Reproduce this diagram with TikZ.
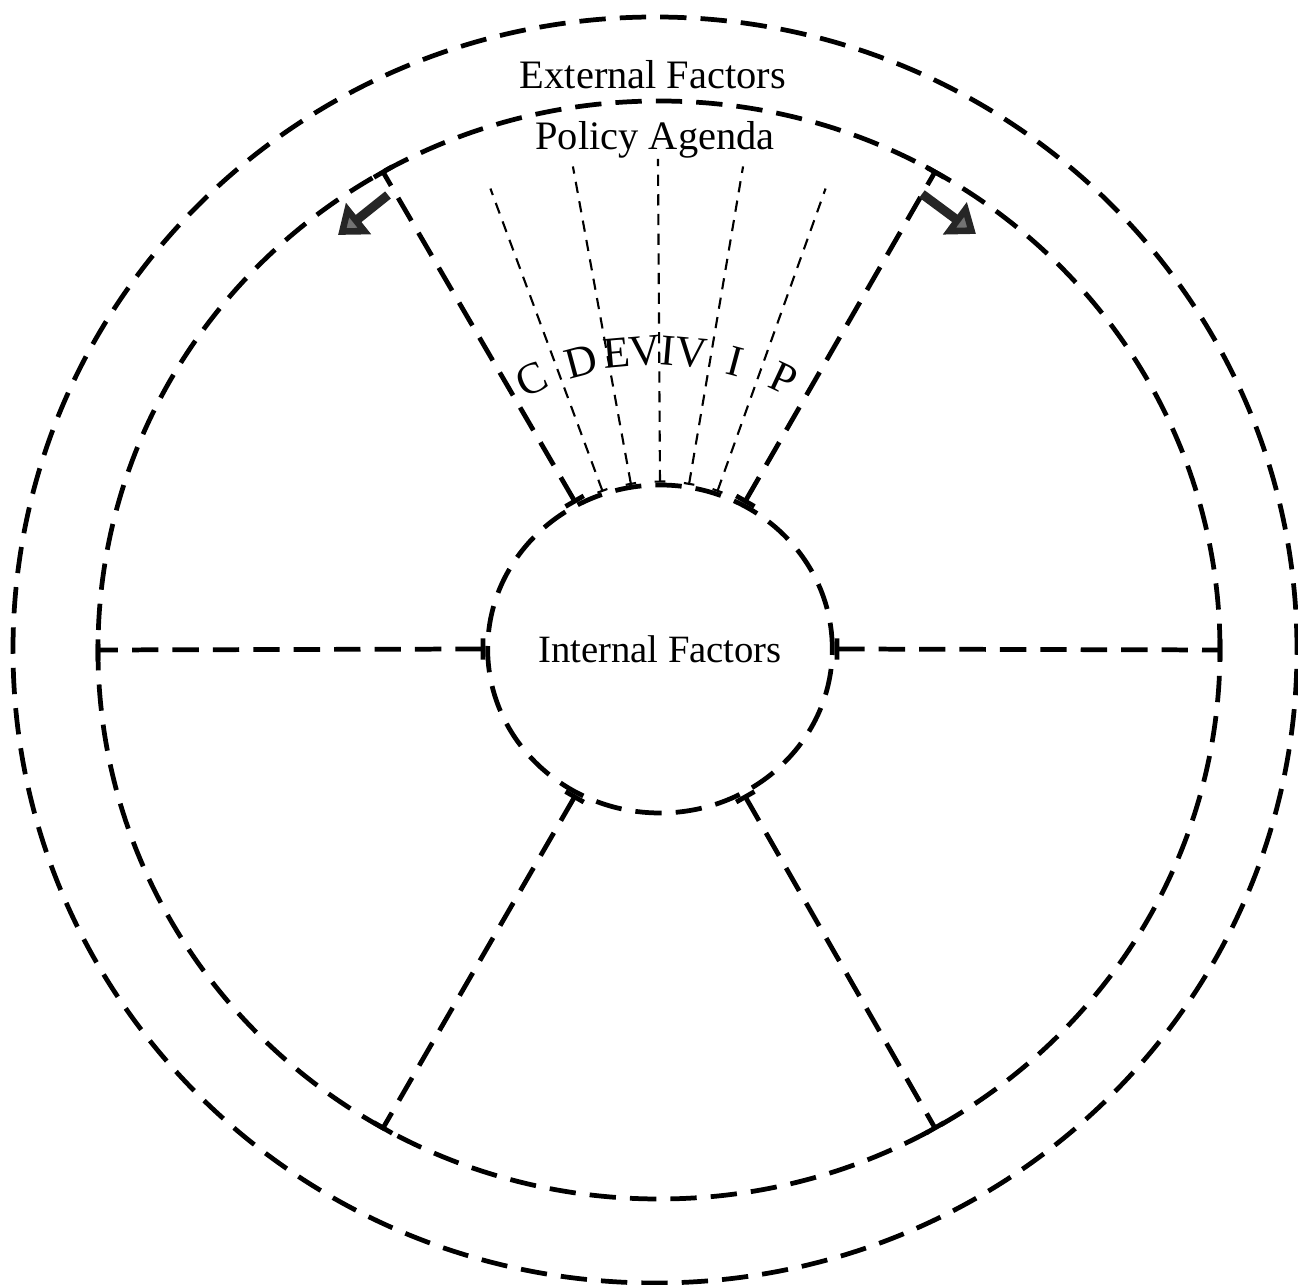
\documentclass[tikz,border=0pt]{standalone}
\usepackage{fontspec}
\setmainfont{Liberation Serif}
\usetikzlibrary{arrows.meta,shapes.geometric}

\begin{document}
\begin{tikzpicture}[>=Latex,
  every node/.style={font=\fontsize{11.5}{13}\selectfont},
  ring/.style={draw,ellipse,inner sep=0pt,line width=1.35pt,dash pattern=on 7.5pt off 4pt},
  spoke/.style={line width=1.35pt,dash pattern=on 7.5pt off 4pt,{Bar[width=6pt]}-{Bar[width=6pt]}},
  divider/.style={line width=0.6pt,dash pattern=on 3.2pt off 2.4pt,{Bar[width=3pt]}-},
  widen/.style={line width=2.6pt,black!85,-{Triangle[length=7.5pt,width=11pt,fill=black!55]}}]
\useasboundingbox (-6.58,-6.36) rectangle (6.40,6.49);
\node[ring,minimum width=12.84cm,minimum height=12.66cm] (ext) at (-0.03,-0.01) {};
\node[ring,minimum width=11.22cm,minimum height=10.98cm] (pol) at (0.01,-0.01) {};
\node[ring,minimum width=3.36cm,minimum height=3.28cm,font=\fontsize{11}{13}\selectfont] (int) at (0.02,0) {Internal Factors};
\node (extlbl) at (-0.05,5.74) {External Factors};
\node (pollbl) at (-0.03,5.09) {Policy Agenda};
\foreach \a in {0,60,120,180,240,300}
  \draw[spoke] (int.\a) -- (pol.\a);
\foreach \a in {70,80,...,110}{
  \coordinate (d\a) at (\a:4.9);
  \draw[divider] (int.\a) -- (d\a);
}
\foreach \t/\a in {C/115,D/105,EV/95,IV/85,I/75,P/65}
  \node[font=\fontsize{12.5}{14}\selectfont,rotate=\a-90] (l\t) at (\a:2.98) {\t};
% the agenda can grow either way
\coordinate (gl0) at (-2.70,4.54); \coordinate (gl1) at (-3.20,4.14);
\coordinate (gr0) at (2.64,4.55); \coordinate (gr1) at (3.18,4.15);
\draw[widen] (gl0) -- (gl1);
\draw[widen] (gr0) -- (gr1);
\end{tikzpicture}
\end{document}
